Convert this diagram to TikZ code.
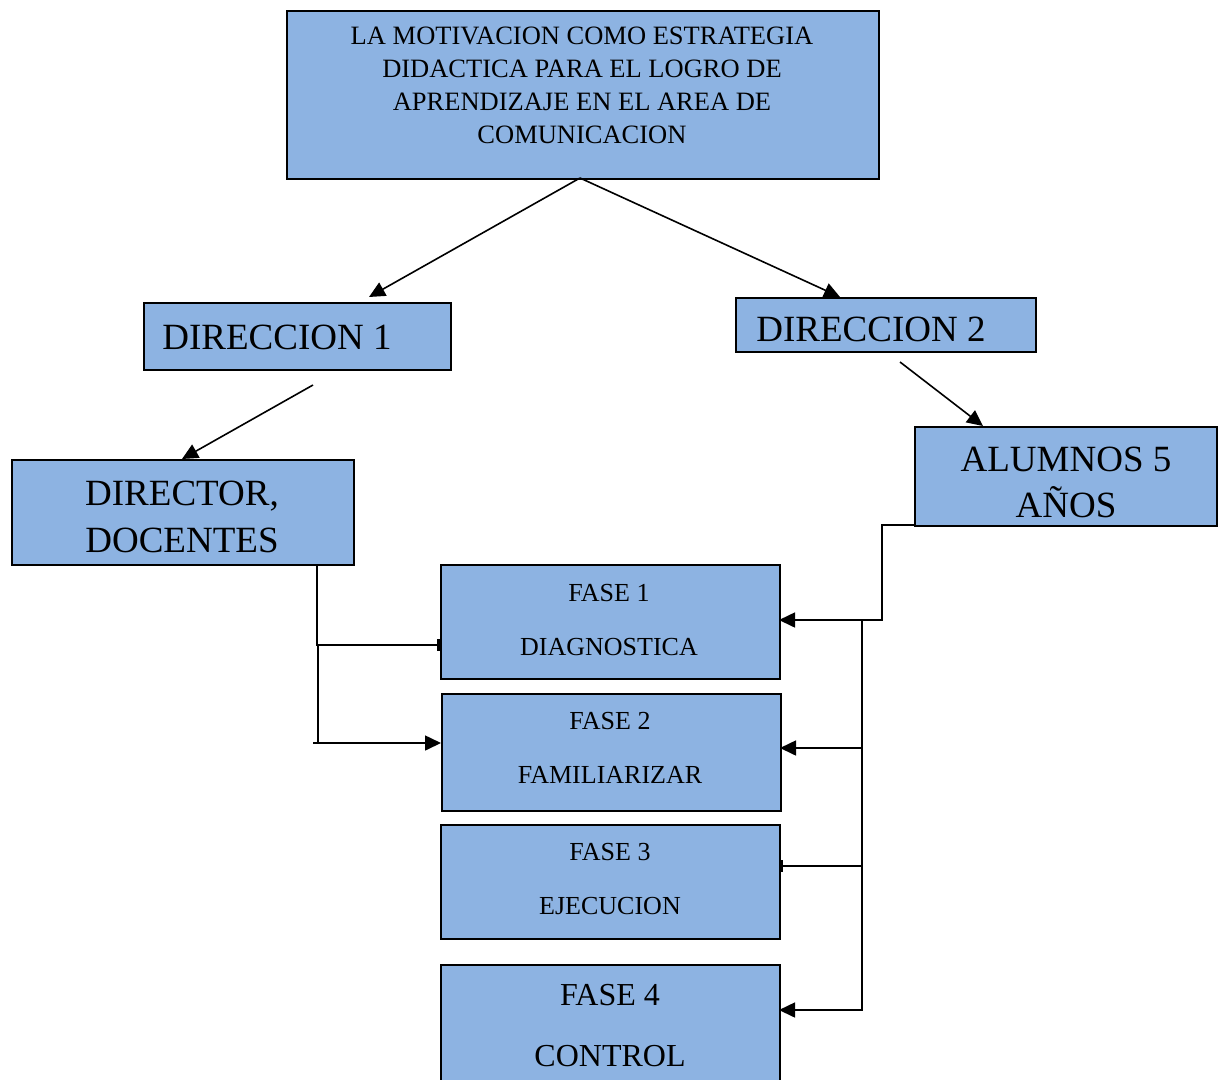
\documentclass[tikz,border=0pt]{standalone}
\usepackage{fontspec}
\setmainfont{Liberation Serif}
\usetikzlibrary{arrows.meta}
\definecolor{boxblue}{RGB}{141,179,226}
\tikzset{
  box/.style={draw=black, fill=boxblue, line width=1.8pt, inner sep=0pt, anchor=north west},
  txt/.style={anchor=base, inner sep=0pt, text=black},
  conn/.style={line width=1.6pt, draw=black},
  arr/.style={conn, -{Triangle[length=16pt,width=15pt]}},
  bararr/.style={conn, -{Bar[width=12pt,line width=3.5pt]}},
}
\newcommand{\boxat}[5]{\node[box, minimum width=#4pt, minimum height=#5pt] (#1) at (#2,#3) {};}
\begin{document}
\begin{tikzpicture}[x=1pt,y=-1pt]
\useasboundingbox (0,0) rectangle (1222,1079);
\clip (0,0) rectangle (1222,1079);
% boxes
\boxat{top}{286}{10}{592}{168}
\boxat{dir1}{143}{302}{307}{67}
\boxat{dir2}{735}{297}{300}{54}
\boxat{doc}{11}{459}{342}{105}
\boxat{alu}{914}{426}{302}{99}
\boxat{f1}{440}{564}{339}{114}
\boxat{f2}{441}{693}{339}{117}
\boxat{f3}{440}{824}{339}{114}
\boxat{f4}{440}{964}{339}{130}
% texts
\begin{scope}[font=\fontsize{26.5}{33}\selectfont]
\node[txt] (t1) at (582,44.6) {LA MOTIVACION COMO ESTRATEGIA};
\node[txt] (t2) at (582,77.6) {DIDACTICA PARA EL LOGRO DE};
\node[txt] (t3) at (582,110.6) {APRENDIZAJE EN EL AREA DE};
\node[txt] (t4) at (582,143.6) {COMUNICACION};
\end{scope}
\begin{scope}[font=\fontsize{37}{44}\selectfont]
\node[txt] (d1t) at (277,349.2) {DIRECCION 1};
\node[txt] (d2t) at (871,341.2) {DIRECCION 2};
\node[txt] (doc1) at (182,505.2) {DIRECTOR,};
\node[txt] (doc2) at (182,552.2) {DOCENTES};
\node[txt] (alu1) at (1066,471.2) {ALUMNOS 5};
\node[txt] (alu2) at (1066,517.2) {AÑOS};
\end{scope}
\begin{scope}[font=\fontsize{26}{30}\selectfont]
\node[txt] (f1a) at (609,601.6) {FASE 1};
\node[txt] (f1b) at (609,655.6) {DIAGNOSTICA};
\node[txt] (f2a) at (610,729.6) {FASE 2};
\node[txt] (f2b) at (610,783.6) {FAMILIARIZAR};
\node[txt] (f3a) at (610,860.6) {FASE 3};
\node[txt] (f3b) at (610,914.6) {EJECUCION};
\end{scope}
\begin{scope}[font=\fontsize{32}{36}\selectfont]
\node[txt] (f4a) at (610,1005.6) {FASE 4};
\node[txt] (f4b) at (610,1066.6) {CONTROL};
\end{scope}
% coordinates
\coordinate (topout) at (580,178);
\coordinate (d1in) at (369,297);
\coordinate (d2in) at (840,297);
\coordinate (d1out) at (313,385);
\coordinate (docin) at (182,459);
\coordinate (d2out) at (900,362);
\coordinate (aluin) at (983,426);
\coordinate (docout) at (317,564);
\coordinate (jl1) at (317,645);
\coordinate (f1in) at (440,645);
\coordinate (jl2) at (318,742);
\coordinate (l2start) at (313,743);
\coordinate (f2in) at (441,743);
\coordinate (aluout) at (914,525);
\coordinate (jr0) at (882,525);
\coordinate (jr1) at (882,620);
\coordinate (f1rin) at (779,620);
\coordinate (vtop) at (862,620);
\coordinate (vbot) at (862,1010);
\coordinate (jr2) at (862,748);
\coordinate (f2rin) at (780,748);
\coordinate (jr3) at (862,866);
\coordinate (f3rin) at (779,866);
\coordinate (f4rin) at (779,1010);
% connectors
\draw[arr] (topout) -- (d1in);
\draw[arr] (topout) -- (d2in);
\draw[arr] (d1out) -- (docin);
\draw[arr] (d2out) -- (aluin);
\draw[bararr] (docout) -- (jl1) -- (f1in);
\draw[conn] (318,645) -- (jl2);
\draw[arr] (l2start) -- (f2in);
\draw[arr] (aluout) -- (jr0) -- (jr1) -- (f1rin);
\draw[conn] (vtop) -- (jr2);
\draw[arr] (jr2) -- (f2rin);
\draw[conn] (jr2) -- (jr3);
\draw[bararr] (jr3) -- (f3rin);
\draw[arr] (jr3) -- (vbot) -- (f4rin);
\end{tikzpicture}
\end{document}
